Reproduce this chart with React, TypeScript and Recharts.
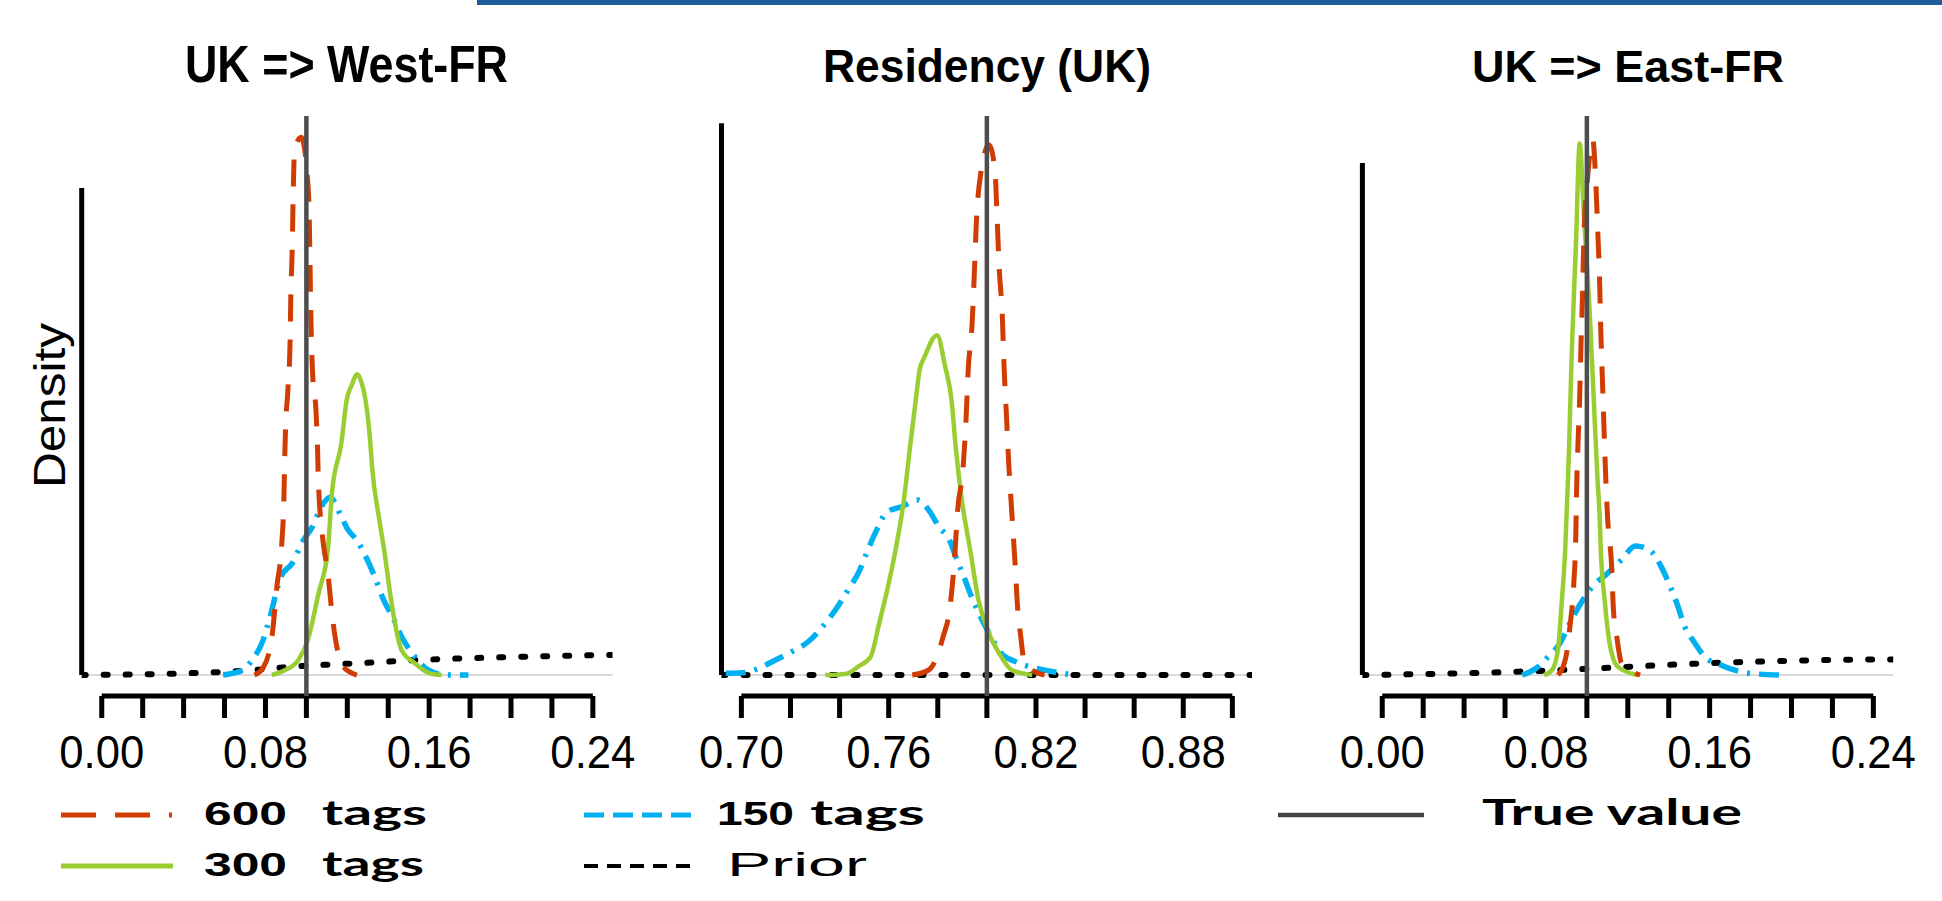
import React from 'react';
import { ComposedChart, Line, XAxis, YAxis, ReferenceLine } from 'recharts';

type Pt = [number, number];

// ---------- Panel 1: UK => West-FR ----------
const westTicks = [0, 0.02, 0.04, 0.06, 0.08, 0.1, 0.12, 0.14, 0.16, 0.18, 0.2, 0.22, 0.24];
const westTickLabels = ['0.00', '0.08', '0.16', '0.24'];
const westRed600: Pt[] = [
  [0.0746, 0], [0.079, 1.4], [0.0833, 7.2], [0.0855, 15.6], [0.0881, 24.2], [0.089, 31.3], [0.0894, 38.5],
  [0.0898, 44], [0.0909, 50.6], [0.092, 59.2], [0.0924, 67.8], [0.0931, 76.6], [0.0935, 85], [0.0942, 93.9],
  [0.0975, 96.2], [0.1007, 88], [0.1014, 81.9], [0.1018, 73], [0.1022, 64], [0.1029, 55.1], [0.1048, 46.5],
  [0.1055, 40], [0.1058, 35.4], [0.1077, 25.4], [0.1105, 18.2], [0.1127, 10.4], [0.116, 3.2], [0.1182, 1.4], [0.1247, 0],
];
const westGreen300: Pt[] = [
  [0.0831, 0], [0.0896, 0.9], [0.0961, 2.7], [0.1007, 6.3], [0.106, 14.7], [0.1105, 22.4], [0.1125, 32.6],
  [0.1171, 41.5], [0.1197, 49.2], [0.1223, 52], [0.1247, 53.8], [0.1269, 52.4], [0.1289, 49.2], [0.1314, 40.8],
  [0.1321, 37.3], [0.1354, 28.3], [0.138, 22.4], [0.1419, 12.2], [0.1465, 4.5], [0.153, 2.1], [0.1596, 0.4], [0.1661, 0],
];
const westBlue150: Pt[] = [
  [0.0593, 0], [0.0691, 0.9], [0.0735, 2.7], [0.0789, 6.3], [0.0822, 10.4], [0.0876, 17.6], [0.0931, 20],
  [0.0985, 24.1], [0.1029, 26.5], [0.1073, 30.1], [0.1116, 31.8], [0.1171, 28.3], [0.1203, 26], [0.1247, 24.1],
  [0.129, 21.2], [0.1334, 17.6], [0.1378, 13.4], [0.1421, 10.4], [0.1465, 6.9], [0.153, 3.3], [0.1596, 0.9],
  [0.1683, 0], [0.1792, 0],
];
const westPrior: Pt[] = [
  [-0.0098, 0], [0.04, 0.3], [0.0713, 0.8], [0.0931, 1.5], [0.1247, 2.1], [0.1552, 2.7], [0.1879, 3.1],
  [0.2206, 3.4], [0.2496, 3.6],
];
const westTrue = 0.1;

// ---------- Panel 2: Residency (UK) ----------
const resTicks = [0.7, 0.72, 0.74, 0.76, 0.78, 0.8, 0.82, 0.84, 0.86, 0.88, 0.9];
const resTickLabels = ['0.70', '0.76', '0.82', '0.88'];
const resRed600: Pt[] = [
  [0.7696, 0], [0.7763, 0.9], [0.7797, 3.3], [0.7822, 6.9], [0.7848, 11.6], [0.7868, 20.6], [0.7881, 29.5],
  [0.7903, 37], [0.7915, 45.6], [0.7924, 54.6], [0.794, 63], [0.7949, 71.9], [0.7957, 80.8], [0.7974, 89.4],
  [0.8008, 94.8], [0.8033, 90.3], [0.8042, 81.4], [0.805, 73], [0.8063, 64.1], [0.807, 55.2], [0.808, 46.2],
  [0.8089, 37.9], [0.8101, 29.5], [0.8114, 20.6], [0.8126, 11.6], [0.8138, 6.9], [0.8151, 2.7], [0.8185, 0.9], [0.8235, 0],
];
const resGreen300: Pt[] = [
  [0.7341, 0], [0.7425, 0.2], [0.7476, 1.5], [0.7527, 3.3], [0.7561, 9.2], [0.7594, 15.2], [0.7628, 22.4],
  [0.7662, 31.3], [0.7687, 40.8], [0.7712, 49.8], [0.7726, 54.6], [0.7746, 56.9], [0.7797, 60.8], [0.783, 55.2],
  [0.7856, 49.2], [0.7873, 40.8], [0.7898, 31.3], [0.7932, 22.4], [0.7966, 13.4], [0.8008, 7.5], [0.805, 3.9],
  [0.8101, 0.9], [0.8185, 0],
];
const resBlue150: Pt[] = [
  [0.6936, 0.3], [0.7004, 0.4], [0.7071, 1.2], [0.7139, 2.7], [0.7206, 4.2], [0.7273, 6], [0.7341, 9.2],
  [0.7392, 12.2], [0.7434, 15.2], [0.7476, 18.2], [0.751, 21.8], [0.7544, 25.3], [0.7594, 29.2], [0.7653, 30.1],
  [0.7721, 31.3], [0.7763, 29.5], [0.7805, 26.5], [0.7848, 24.1], [0.7873, 21.2], [0.7906, 17.6], [0.7932, 14.6],
  [0.7974, 10.4], [0.8016, 6.9], [0.8058, 3.9], [0.8117, 2.4], [0.8202, 1.2], [0.8269, 0.6], [0.8354, 0],
];
const resPrior: Pt[] = [[0.6919, 0], [0.75, 0], [0.8, 0], [0.85, 0], [0.908, 0]];
const resTrue = 0.8;

// ---------- Panel 3: UK => East-FR ----------
const eastTicks = westTicks;
const eastTickLabels = ['0.00', '0.08', '0.16', '0.24'];
const eastRed600: Pt[] = [
  [0.0859, 0], [0.0898, 3.3], [0.0917, 8.6], [0.0936, 16.4], [0.0946, 25.3], [0.0949, 31.9], [0.0956, 40.8],
  [0.0965, 49.8], [0.0971, 58.7], [0.0979, 68.3], [0.0985, 77.8], [0.1004, 89.1], [0.1029, 95.7], [0.1043, 88.6],
  [0.1053, 79.6], [0.1062, 70.7], [0.1068, 61.7], [0.1076, 52.8], [0.1084, 43.8], [0.1092, 35.5], [0.1101, 28.3],
  [0.1121, 19.4], [0.113, 11.6], [0.1146, 6.9], [0.1169, 2.1], [0.1208, 0.9], [0.126, 0],
];
const eastGreen300: Pt[] = [
  [0.0791, 0], [0.083, 0.9], [0.0859, 4.7], [0.0878, 13.4], [0.0894, 22.4], [0.0907, 34.3], [0.0913, 40.8],
  [0.0927, 58.7], [0.0946, 76.6], [0.0965, 95.1], [0.0985, 82.6], [0.1014, 64.7], [0.1033, 49.8], [0.1053, 34.3],
  [0.1062, 28.9], [0.1068, 22.4], [0.1087, 13.4], [0.1111, 5.7], [0.115, 1.5], [0.1247, 0],
];
const eastBlue150: Pt[] = [
  [0.0684, 0], [0.0752, 1.2], [0.0811, 3.3], [0.0869, 5.7], [0.0917, 9.3], [0.0975, 13.1], [0.1033, 16.1],
  [0.1092, 17.9], [0.1169, 20.6], [0.1237, 23.1], [0.1305, 22.4], [0.1363, 19.4], [0.1401, 16.4], [0.144, 12.8],
  [0.1479, 8.6], [0.1528, 5.7], [0.1576, 3.3], [0.1654, 1.8], [0.175, 0.6], [0.1828, 0.2], [0.1954, 0],
];
const eastPrior: Pt[] = [
  [-0.0097, 0], [0.0665, 0.6], [0.1053, 1.2], [0.144, 1.9], [0.1828, 2.4], [0.2216, 2.7], [0.2497, 2.8],
];
const eastTrue = 0.1;

const titles = ['UK => West-FR', 'Residency (UK)', 'UK => East-FR'];
const legendLabels = ['600', '300', '150', 'tags', 'Prior', 'True value'];

// ---------- styles ----------
const RED = '#d03c02';
const GREEN = '#9acd32';
const BLUE = '#00b0f0';
const TRUE_C = '#4d4d4d';
const Y_DOMAIN: [number, number] = [-3.75, 100];
const ARIAL = "'Liberation Sans', Arial, Helvetica, sans-serif";
const CAL = "Lato, 'Open Sans', 'Liberation Sans', sans-serif";

const rows = (pts: Pt[]) => pts.map(([x, y]) => ({ x, y }));

function AxisTick(props: any) {
  const { x, y, payload, labels, labelWidth } = props;
  const txt = Number(payload.value).toFixed(2);
  if (!labels.includes(txt)) return <g />;
  return (
    <text x={x} y={y + 50} textAnchor="middle" fontFamily={ARIAL} fontSize={46} fill="#000"
      textLength={labelWidth} lengthAdjust="spacingAndGlyphs">{txt}</text>
  );
}

interface PanelProps {
  left: number; width: number; mLeft: number; mRight: number;
  xDomain: [number, number]; ticks: number[]; labels: string[];
  red: Pt[]; green: Pt[]; blue: Pt[]; prior: Pt[]; trueVal: number; yAxisTop: number;
}

function Panel(p: PanelProps) {
  const h = 800;
  return (
    <div style={{ position: 'absolute', left: p.left, top: 0 }}>
      <ComposedChart width={p.width} height={h} margin={{ top: 116, right: p.mRight, bottom: 24, left: p.mLeft }}>
        <XAxis dataKey="x" type="number" domain={p.xDomain} allowDataOverflow ticks={p.ticks} interval={0}
          height={80} axisLine={false} stroke="#000" tickSize={22} tickMargin={0}
          tickLine={{ stroke: '#000', strokeWidth: 5 }}
          tick={<AxisTick labels={p.labels} labelWidth={85} />} />
        <YAxis type="number" domain={Y_DOMAIN} allowDataOverflow hide width={0} />
        <ReferenceLine y={0} stroke="#cccccc" strokeWidth={1.5} ifOverflow="visible" />
        <Line data={rows(p.prior)} dataKey="y" type="monotone" stroke="#000" strokeWidth={6}
          strokeDasharray="4 18" strokeLinecap="round" dot={false} activeDot={false} isAnimationActive={false} />
        <Line data={rows(p.blue)} dataKey="y" type="monotone" stroke={BLUE} strokeWidth={5.5}
          strokeDasharray="20 9 3 9" dot={false} activeDot={false} isAnimationActive={false} />
        <Line data={rows(p.green)} dataKey="y" type="monotone" stroke={GREEN} strokeWidth={4.5}
          dot={false} activeDot={false} isAnimationActive={false} />
        <Line data={rows(p.red)} dataKey="y" type="monotone" stroke={RED} strokeWidth={5}
          strokeDasharray="27 18" dot={false} activeDot={false} isAnimationActive={false} />
        <ReferenceLine segment={[{ x: p.xDomain[0], y: 0 }, { x: p.xDomain[0], y: p.yAxisTop }]}
          stroke="#000" strokeWidth={5} ifOverflow="visible" />
        <ReferenceLine segment={[{ x: p.ticks[0], y: Y_DOMAIN[0] }, { x: p.ticks[p.ticks.length - 1], y: Y_DOMAIN[0] }]}
          stroke="#000" strokeWidth={5} ifOverflow="visible" />
        <ReferenceLine x={p.trueVal} stroke={TRUE_C} strokeWidth={4.5} ifOverflow="visible" />
      </ComposedChart>
    </div>
  );
}

function Overlay() {
  return (
    <svg width={1942} height={901} style={{ position: 'absolute', left: 0, top: 0, pointerEvents: 'none' }}>
      <rect x={477} y={0} width={1465} height={5} fill="#1f5c99" />
      <text x={185} y={82} fontFamily={ARIAL} fontWeight="bold" fontSize={52} textLength={323}
        lengthAdjust="spacingAndGlyphs">{titles[0]}</text>
      <text x={823} y={82} fontFamily={ARIAL} fontWeight="bold" fontSize={47} textLength={328}
        lengthAdjust="spacingAndGlyphs">{titles[1]}</text>
      <text x={1472} y={82} fontFamily={ARIAL} fontWeight="bold" fontSize={45} textLength={312}
        lengthAdjust="spacingAndGlyphs">{titles[2]}</text>
      <text transform="translate(65,405.5) rotate(-90)" textAnchor="middle" fontFamily={ARIAL} fontSize={44}
        textLength={165} lengthAdjust="spacingAndGlyphs">Density</text>

      {/* legend */}
      <line x1={61} x2={172} y1={815} y2={815} stroke={RED} strokeWidth={5} strokeDasharray="35 19" />
      <text x={204} y={825} fontFamily={ARIAL} fontWeight="bold" fontSize={33} textLength={83} lengthAdjust="spacingAndGlyphs">{legendLabels[0]}</text>
      <text x={322} y={825} fontFamily={CAL} fontWeight="bold" fontSize={34} textLength={105} lengthAdjust="spacingAndGlyphs">{legendLabels[3]}</text>

      <line x1={61} x2={173} y1={866} y2={866} stroke={GREEN} strokeWidth={5} />
      <text x={204} y={876} fontFamily={ARIAL} fontWeight="bold" fontSize={33} textLength={83} lengthAdjust="spacingAndGlyphs">{legendLabels[1]}</text>
      <text x={322} y={876} fontFamily={CAL} fontWeight="bold" fontSize={34} textLength={102} lengthAdjust="spacingAndGlyphs">{legendLabels[3]}</text>

      <line x1={584} x2={692} y1={815} y2={815} stroke={BLUE} strokeWidth={5} strokeDasharray="20 9" />
      <text x={717} y={825} fontFamily={ARIAL} fontWeight="bold" fontSize={33} textLength={77} lengthAdjust="spacingAndGlyphs">{legendLabels[2]}</text>
      <text x={810} y={825} fontFamily={CAL} fontWeight="bold" fontSize={34} textLength={115} lengthAdjust="spacingAndGlyphs">{legendLabels[3]}</text>

      <line x1={584} x2={692} y1={866} y2={866} stroke="#000" strokeWidth={4} strokeDasharray="14 9" />
      <text x={727} y={876} fontFamily={ARIAL} fontSize={34} textLength={140} lengthAdjust="spacingAndGlyphs">{legendLabels[4]}</text>

      <line x1={1278} x2={1424} y1={815} y2={815} stroke="#444" strokeWidth={4.5} />
      <text x={1482} y={825} fontFamily={CAL} fontWeight="bold" fontSize={36} textLength={260} lengthAdjust="spacingAndGlyphs">{legendLabels[5]}</text>
    </svg>
  );
}

export default function App() {
  return (
    <div style={{ position: 'relative', width: 1942, height: 901, background: '#fff', overflow: 'hidden' }}>
      <style>{'body{margin:0;background:#fff;}'}</style>
      <Panel left={0} width={660} mLeft={81.7} mRight={47.5} xDomain={[-0.0098, 0.2496]} ticks={westTicks}
        labels={westTickLabels} red={westRed600} green={westGreen300} blue={westBlue150} prior={westPrior}
        trueVal={westTrue} yAxisTop={87.1} />
      <Panel left={660} width={640} mLeft={61.5} mRight={48} xDomain={[0.6919, 0.908]} ticks={resTicks}
        labels={resTickLabels} red={resRed600} green={resGreen300} blue={resBlue150} prior={resPrior}
        trueVal={resTrue} yAxisTop={98.7} />
      <Panel left={1300} width={642} mLeft={62.4} mRight={48.8} xDomain={[-0.0097, 0.2497]} ticks={eastTicks}
        labels={eastTickLabels} red={eastRed600} green={eastGreen300} blue={eastBlue150} prior={eastPrior}
        trueVal={eastTrue} yAxisTop={91.6} />
      <Overlay />
    </div>
  );
}
